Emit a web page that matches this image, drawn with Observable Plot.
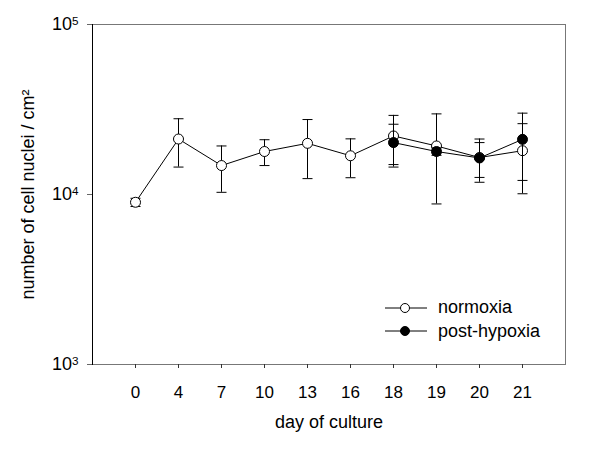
<!DOCTYPE html>
<html>
<head>
<meta charset="utf-8">
<script src="https://cdn.jsdelivr.net/npm/d3@7"></script>
<script src="https://cdn.jsdelivr.net/npm/@observablehq/plot@0.6"></script>
<style>
  body { margin: 0; background: #fff; }
  #wrap { position: relative; width: 600px; height: 450px; font-family: "Liberation Sans", Arial, sans-serif; }
  #legend { position: absolute; left: 384px; top: 296px; font-size: 18px; color: #000; }
  #legend .row { display: flex; align-items: center; height: 23.5px; }
  #legend svg { margin-right: 10px; }
</style>
</head>
<body>
<div id="wrap"></div>
<script>
// ---- data ----
const days = ["0", "4", "7", "10", "13", "16", "18", "19", "20", "21"];
const normoxiaMean = [9000, 21200, 14800, 17900, 20000, 16900, 22100, 19300, 16500, 18100];
const normoxiaErr  = [500, 6700, 4500, 3100, 7600, 4350, 7100, 10500, 4700, 8000];
const hypoxiaDays = ["18", "19", "20", "21"];
const hypoxiaMean = [20200, 17900, 16400, 21100];
const hypoxiaErr  = [5700, 900, 3800, 9000];
const yTicks = [1e3, 1e4, 1e5];
const seriesNames = ["normoxia", "post-hypoxia"];

const normoxia = days.map((d, i) => ({day: d, v: normoxiaMean[i], lo: normoxiaMean[i] - normoxiaErr[i], hi: normoxiaMean[i] + normoxiaErr[i]}));
const hypoxia = hypoxiaDays.map((d, i) => ({day: d, v: hypoxiaMean[i], lo: hypoxiaMean[i] - hypoxiaErr[i], hi: hypoxiaMean[i] + hypoxiaErr[i]}));

const fmtPow = d => "10^" + Math.round(Math.log10(d));

const cap = {draw(ctx) { ctx.moveTo(-5, 0); ctx.lineTo(5, 0); }};

function seriesMarks(data, fill) {
  return [
    Plot.ruleX(data, {x: "day", y1: "lo", y2: "hi", stroke: "#000", strokeWidth: 1}),
    Plot.dot(data, {x: "day", y: "hi", symbol: cap, fill: "none", stroke: "#000", strokeWidth: 1}),
    Plot.dot(data, {x: "day", y: "lo", symbol: cap, fill: "none", stroke: "#000", strokeWidth: 1}),
    Plot.line(data, {x: "day", y: "v", stroke: "#000", strokeWidth: 1}),
    Plot.dot(data, {x: "day", y: "v", r: 5, fill, stroke: "#000", strokeWidth: 1})
  ];
}

const chart = Plot.plot({
  width: 600,
  height: 450,
  marginLeft: 92,
  marginRight: 35,
  marginTop: 24,
  marginBottom: 86,
  style: {fontFamily: "'Liberation Sans', Arial, sans-serif", fontSize: "16px", color: "#000", background: "#fff"},
  x: {type: "point", domain: days, padding: 1},
  y: {type: "log", domain: [1e3, 1e5]},
  marks: [
    Plot.frame({stroke: "#777"}),
    Plot.frame({anchor: "left", stroke: "#000"}),
    Plot.axisX({tickSize: 4, tickPadding: 17, stroke: "#333", fontSize: 17, label: null}),
    Plot.axisX({ticks: [], tickSize: 0, label: "day of culture", labelAnchor: "center", labelArrow: false, labelOffset: 63, fontSize: 18}),
    Plot.axisY({ticks: yTicks, tickFormat: fmtPow, tickSize: 5, tickPadding: 9, stroke: "#666", fontSize: 18, label: null}),
    Plot.axisY({ticks: [], tickSize: 0, label: "number of cell nuclei / cm²", labelAnchor: "center", labelArrow: false, labelOffset: 71, fontSize: 18}),
    ...seriesMarks(normoxia, "#fff"),
    ...seriesMarks(hypoxia, "#000")
  ]
});

// render power-of-ten tick labels with a real superscript
chart.querySelectorAll("text").forEach(t => {
  const m = /^10\^(\d+)$/.exec(t.textContent);
  if (m) {
    t.textContent = "10";
    const s = document.createElementNS("http://www.w3.org/2000/svg", "tspan");
    s.setAttribute("dy", "-0.45em");
    s.setAttribute("font-size", "0.65em");
    s.textContent = m[1];
    t.appendChild(s);
  }
});

const wrap = document.getElementById("wrap");
wrap.appendChild(chart);

const legend = document.createElement("div");
legend.id = "legend";
[["#fff", seriesNames[0]], ["#000", seriesNames[1]]].forEach(([fill, name]) => {
  const row = document.createElement("div");
  row.className = "row";
  row.innerHTML = `<svg width="44" height="12"><line x1="1" x2="43" y1="6" y2="6" stroke="#000"/><circle cx="21" cy="6" r="4.5" fill="${fill}" stroke="#000"/></svg><span>${name}</span>`;
  legend.appendChild(row);
});
wrap.appendChild(legend);
</script>
</body>
</html>
